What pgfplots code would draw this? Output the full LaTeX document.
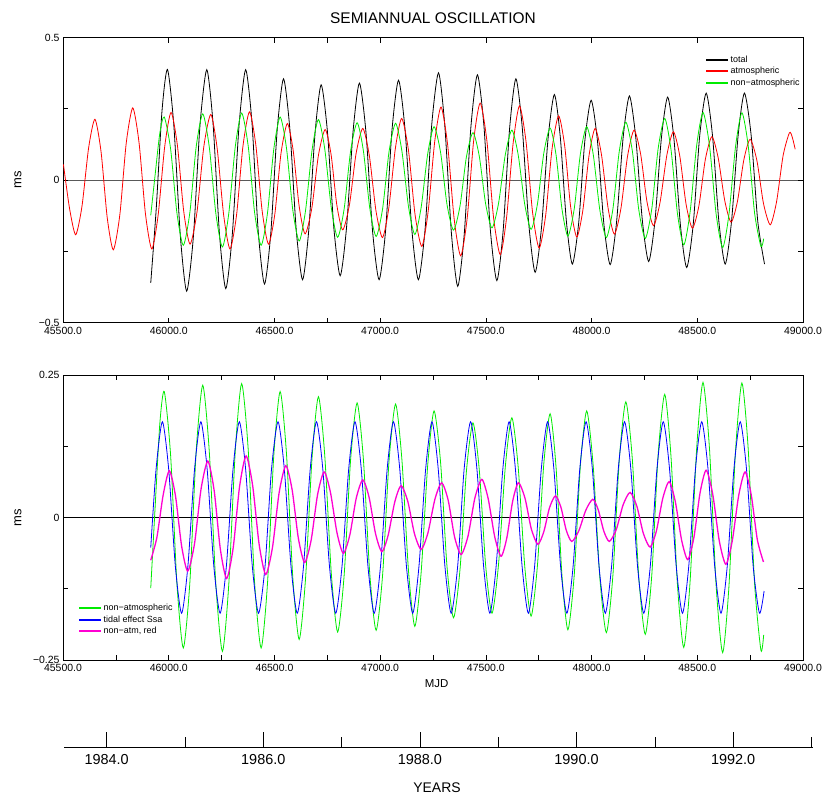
\documentclass[border=0pt]{standalone}
\usepackage{pgfplots}
\pgfplotsset{compat=1.18}
\usepackage{fontspec}
\setmainfont{Liberation Sans}
\definecolor{cgreen}{RGB}{0,235,0}
\definecolor{cred}{RGB}{255,0,0}
\definecolor{cblue}{RGB}{0,0,255}
\definecolor{cmag}{RGB}{255,0,210}
\pgfplotsset{
  panel/.style={
    scale only axis, width=740bp, height=285bp,
    xmin=45500, xmax=49000,
    scaled x ticks=false, scaled y ticks=false,
    xtick={45500,46000,46500,47000,47500,48000,48500,49000},
    xticklabels={45500.0,46000.0,46500.0,47000.0,47500.0,48000.0,48500.0,49000.0},
    tick align=inside, tick pos=both,
    major tick length=5bp, minor tick length=5bp,
    every tick/.style={black, line width=0.6bp},
    axis line style={black, line width=0.8bp},
    ticklabel style={font=\fontsize{10.5}{12}\selectfont},
    xticklabel style={yshift=-1bp},
    every axis y label/.style={at={(rel axis cs:-0.0608,0.5)}, anchor=center, rotate=90, font=\fontsize{13}{15}\selectfont},
    ylabel=ms,
    legend cell align=left,
    legend image code/.code={\draw[line width=2bp,#1] (0bp,0bp) -- (22bp,0bp);},
    every axis plot/.append style={line width=0.8bp, smooth, tension=0.42},
  }
}
\begin{document}
\begin{tikzpicture}
\useasboundingbox (0bp,0bp) rectangle (823bp,-798bp);
% ---------------- top panel ----------------
\begin{axis}[panel,
  at={(63bp,-37.5bp)}, anchor=north west,
  minor xtick={46750},
  ymin=-0.5, ymax=0.5,
  ytick={-0.5,-0.25,0,0.25,0.5},
  yticklabels={−0.5,,0,,0.5},
  title={SEMIANNUAL OSCILLATION},
  every axis title shift=0pt,
  title style={at={(rel axis cs:0.5,1.0664)}, anchor=center, font=\fontsize{15.5}{18}\selectfont},
  legend style={draw=none, fill=none, inner sep=0pt, outer sep=0pt,
    at={(rel axis cs:0.8676,0.942)}, anchor=north west,
    font=\fontsize{9}{10}\selectfont, row sep=0pt,
    nodes={inner sep=1.6bp, text height=6.5bp, text depth=1.8bp},
    /tikz/every even column/.append style={column sep=5bp}},
]
\addplot[black, forget plot] coordinates {(45500,0) (49000,0)};
\addplot[black] coordinates {
(45915,-0.361)(45941,-0.100)(45968,0.240)(45994,0.388)(46024,0.194)(46055,-0.196)(46085,-0.390)(46117,-0.196)(46148,0.193)(46180,0.387)(46210,0.195)(46240,-0.189)(46270,-0.381)(46301,-0.189)(46333,0.195)(46364,0.387)(46394,0.199)(46423,-0.177)(46453,-0.365)(46483,-0.185)(46513,0.175)(46543,0.355)(46573,0.178)(46603,-0.174)(46633,-0.350)(46662,-0.179)(46692,0.163)(46721,0.334)(46751,0.167)(46781,-0.168)(46811,-0.336)(46841,-0.167)(46872,0.171)(46902,0.340)(46933,0.167)(46964,-0.178)(46995,-0.350)(47026,-0.175)(47056,0.175)(47087,0.350)(47118,0.175)(47150,-0.175)(47181,-0.350)(47213,-0.169)(47244,0.194)(47276,0.376)(47306,0.189)(47337,-0.186)(47367,-0.373)(47398,-0.188)(47429,0.184)(47460,0.369)(47491,0.189)(47521,-0.173)(47552,-0.353)(47582,-0.176)(47612,0.178)(47642,0.355)(47672,0.185)(47703,-0.154)(47733,-0.324)(47763,-0.168)(47794,0.144)(47824,0.300)(47852,0.151)(47881,-0.146)(47909,-0.295)(47939,-0.151)(47968,0.136)(47998,0.280)(48028,0.136)(48058,-0.153)(48088,-0.297)(48118,-0.149)(48149,0.147)(48179,0.295)(48209,0.149)(48240,-0.141)(48270,-0.286)(48300,-0.142)(48330,0.146)(48360,0.291)(48390,0.141)(48420,-0.157)(48450,-0.307)(48481,-0.154)(48511,0.152)(48542,0.305)(48572,0.155)(48602,-0.145)(48632,-0.295)(48662,-0.145)(48693,0.155)(48723,0.305)(48755,0.155)(48786,-0.145)(48818,-0.295)
};
\addlegendentry{total}
\addplot[cred] coordinates {
(45502,0.055)(45531,-0.100)(45560,-0.192)(45590,-0.091)(45621,0.112)(45651,0.213)(45680,0.099)(45709,-0.131)(45738,-0.245)(45769,-0.121)(45799,0.129)(45830,0.253)(45860,0.129)(45890,-0.119)(45920,-0.242)(45950,-0.123)(45981,0.117)(46011,0.237)(46041,0.122)(46071,-0.110)(46101,-0.225)(46134,-0.111)(46166,0.117)(46199,0.230)(46229,0.112)(46260,-0.124)(46290,-0.242)(46321,-0.122)(46351,0.118)(46382,0.239)(46412,0.123)(46442,-0.109)(46472,-0.225)(46502,-0.119)(46531,0.093)(46561,0.198)(46589,0.102)(46617,-0.092)(46645,-0.189)(46677,-0.098)(46708,0.086)(46740,0.177)(46768,0.089)(46795,-0.087)(46823,-0.175)(46855,-0.086)(46886,0.092)(46918,0.181)(46949,0.085)(46980,-0.107)(47011,-0.202)(47041,-0.098)(47072,0.111)(47102,0.216)(47134,0.104)(47165,-0.121)(47197,-0.233)(47227,-0.111)(47258,0.134)(47288,0.256)(47319,0.125)(47350,-0.136)(47381,-0.266)(47412,-0.132)(47442,0.136)(47473,0.270)(47505,0.137)(47536,-0.129)(47568,-0.262)(47598,-0.132)(47629,0.129)(47659,0.260)(47690,0.135)(47721,-0.114)(47752,-0.239)(47783,-0.123)(47813,0.109)(47844,0.225)(47873,0.119)(47901,-0.094)(47930,-0.200)(47959,-0.105)(47988,0.086)(48017,0.181)(48047,0.088)(48078,-0.098)(48108,-0.190)(48139,-0.099)(48170,0.083)(48201,0.175)(48232,0.091)(48262,-0.076)(48293,-0.160)(48324,-0.078)(48356,0.087)(48387,0.169)(48417,0.085)(48447,-0.085)(48477,-0.169)(48508,-0.089)(48538,0.072)(48569,0.152)(48599,0.077)(48630,-0.073)(48660,-0.148)(48690,-0.075)(48720,0.070)(48750,0.143)(48782,0.068)(48813,-0.082)(48845,-0.157)(48875,-0.076)(48906,0.086)(48936,0.166)(48950,0.148)(48963,0.108)
};
\addlegendentry{atmospheric}
\addplot[cgreen] coordinates {
(45915,-0.124)(45936,0.020)(45958,0.165)(45979,0.221)(46009,0.109)(46039,-0.117)(46069,-0.229)(46100,-0.114)(46130,0.117)(46161,0.232)(46192,0.115)(46223,-0.118)(46254,-0.235)(46284,-0.118)(46315,0.118)(46345,0.235)(46376,0.119)(46406,-0.113)(46437,-0.229)(46467,-0.117)(46497,0.109)(46527,0.221)(46557,0.112)(46587,-0.106)(46617,-0.214)(46647,-0.108)(46678,0.105)(46708,0.212)(46738,0.109)(46769,-0.098)(46799,-0.201)(46830,-0.100)(46860,0.100)(46891,0.201)(46921,0.101)(46951,-0.099)(46981,-0.198)(47012,-0.099)(47042,0.099)(47073,0.199)(47103,0.101)(47134,-0.093)(47164,-0.191)(47194,-0.096)(47225,0.092)(47255,0.187)(47286,0.096)(47316,-0.085)(47347,-0.176)(47378,-0.090)(47408,0.081)(47439,0.166)(47469,0.083)(47499,-0.084)(47529,-0.168)(47560,-0.082)(47592,0.089)(47623,0.175)(47653,0.088)(47684,-0.086)(47714,-0.173)(47744,-0.084)(47774,0.094)(47804,0.182)(47832,0.088)(47860,-0.102)(47888,-0.197)(47918,-0.101)(47947,0.091)(47977,0.187)(48008,0.089)(48039,-0.105)(48070,-0.202)(48101,-0.101)(48131,0.101)(48162,0.203)(48193,0.101)(48223,-0.103)(48254,-0.205)(48285,-0.100)(48315,0.111)(48346,0.216)(48376,0.105)(48406,-0.117)(48436,-0.228)(48466,-0.112)(48497,0.121)(48527,0.237)(48558,0.119)(48589,-0.119)(48620,-0.237)(48650,-0.119)(48681,0.118)(48711,0.236)(48741,0.119)(48771,-0.116)(48801,-0.233)(48814,-0.206)
};
\addlegendentry{non−atmospheric}
\end{axis}
% ---------------- bottom panel ----------------
\begin{axis}[panel,
  at={(63bp,-375bp)}, anchor=north west,
  minor xtick={45750,46250,46750,47250,47750,48250,48750},
  ymin=-0.25, ymax=0.25,
  ytick={-0.25,-0.125,0,0.125,0.25},
  yticklabels={−0.25,,0,,0.25},
  xlabel=MJD,
  every axis x label/.style={at={(rel axis cs:0.505,-0.082)}, anchor=center, font=\fontsize{11.5}{13}\selectfont},
  legend style={draw=none, fill=none, inner sep=0pt, outer sep=0pt,
    at={(rel axis cs:0.0203,0.201)}, anchor=north west,
    font=\fontsize{9}{10}\selectfont, row sep=0pt,
    nodes={inner sep=1.6bp, text height=6.5bp, text depth=1.8bp},
    /tikz/every even column/.append style={column sep=2bp}},
]
\addplot[black, forget plot] coordinates {(45500,0) (49000,0)};
\addplot[cgreen] coordinates {
(45915,-0.124)(45936,0.020)(45958,0.165)(45979,0.221)(46009,0.109)(46039,-0.117)(46069,-0.229)(46100,-0.114)(46130,0.117)(46161,0.232)(46192,0.115)(46223,-0.118)(46254,-0.235)(46284,-0.118)(46315,0.118)(46345,0.235)(46376,0.119)(46406,-0.113)(46437,-0.229)(46467,-0.117)(46497,0.109)(46527,0.221)(46557,0.112)(46587,-0.106)(46617,-0.214)(46647,-0.108)(46678,0.105)(46708,0.212)(46738,0.109)(46769,-0.098)(46799,-0.201)(46830,-0.100)(46860,0.100)(46891,0.201)(46921,0.101)(46951,-0.099)(46981,-0.198)(47012,-0.099)(47042,0.099)(47073,0.199)(47103,0.101)(47134,-0.093)(47164,-0.191)(47194,-0.096)(47225,0.092)(47255,0.187)(47286,0.096)(47316,-0.085)(47347,-0.176)(47378,-0.090)(47408,0.081)(47439,0.166)(47469,0.083)(47499,-0.084)(47529,-0.168)(47560,-0.082)(47592,0.089)(47623,0.175)(47653,0.088)(47684,-0.086)(47714,-0.173)(47744,-0.084)(47774,0.094)(47804,0.182)(47832,0.088)(47860,-0.102)(47888,-0.197)(47918,-0.101)(47947,0.091)(47977,0.187)(48008,0.089)(48039,-0.105)(48070,-0.202)(48101,-0.101)(48131,0.101)(48162,0.203)(48193,0.101)(48223,-0.103)(48254,-0.205)(48285,-0.100)(48315,0.111)(48346,0.216)(48376,0.105)(48406,-0.117)(48436,-0.228)(48466,-0.112)(48497,0.121)(48527,0.237)(48558,0.119)(48589,-0.119)(48620,-0.237)(48650,-0.119)(48681,0.118)(48711,0.236)(48741,0.119)(48771,-0.116)(48801,-0.233)(48814,-0.206)
};
\addlegendentry{non−atmospheric}
\addplot[cblue] coordinates {
(45915,-0.053)(45940,0.084)(45970,0.168)(46000,0.084)(46031,-0.084)(46061,-0.168)(46091,-0.084)(46122,0.084)(46152,0.168)(46182,0.084)(46213,-0.084)(46243,-0.168)(46273,-0.084)(46304,0.084)(46334,0.168)(46364,0.084)(46395,-0.084)(46425,-0.168)(46456,-0.084)(46486,0.084)(46517,0.168)(46547,0.084)(46578,-0.084)(46608,-0.168)(46638,-0.084)(46669,0.084)(46699,0.168)(46729,0.084)(46760,-0.084)(46790,-0.168)(46820,-0.084)(46851,0.084)(46881,0.168)(46911,0.084)(46942,-0.084)(46972,-0.168)(47002,-0.084)(47033,0.084)(47063,0.168)(47093,0.084)(47124,-0.084)(47154,-0.168)(47184,-0.084)(47215,0.084)(47245,0.168)(47275,0.084)(47306,-0.084)(47336,-0.168)(47367,-0.084)(47397,0.084)(47428,0.168)(47458,0.084)(47489,-0.084)(47519,-0.168)(47549,-0.084)(47580,0.084)(47610,0.168)(47640,0.084)(47671,-0.084)(47701,-0.168)(47731,-0.084)(47762,0.084)(47792,0.168)(47822,0.084)(47853,-0.084)(47883,-0.168)(47913,-0.084)(47944,0.084)(47974,0.168)(48004,0.084)(48035,-0.084)(48065,-0.168)(48095,-0.084)(48126,0.084)(48156,0.168)(48186,0.084)(48217,-0.084)(48247,-0.168)(48278,-0.084)(48309,0.084)(48339,0.168)(48369,0.084)(48400,-0.084)(48430,-0.168)(48460,-0.084)(48491,0.084)(48521,0.168)(48551,0.084)(48582,-0.084)(48612,-0.168)(48642,-0.084)(48673,0.084)(48703,0.168)(48733,0.084)(48764,-0.084)(48794,-0.168)(48816,-0.129)
};
\addlegendentry{tidal effect Ssa}
\addplot[cmag, line width=1.3bp] coordinates {
(45915,-0.075)(45944,-0.035)(45974,0.040)(46003,0.082)(46032,0.038)(46061,-0.050)(46090,-0.094)(46122,-0.046)(46153,0.050)(46185,0.099)(46215,0.047)(46244,-0.055)(46274,-0.107)(46305,-0.053)(46335,0.054)(46366,0.108)(46397,0.056)(46428,-0.048)(46459,-0.100)(46491,-0.052)(46522,0.043)(46554,0.091)(46584,0.048)(46613,-0.036)(46643,-0.079)(46674,-0.039)(46704,0.040)(46735,0.080)(46765,0.044)(46796,-0.027)(46826,-0.063)(46857,-0.030)(46887,0.034)(46918,0.066)(46948,0.035)(46978,-0.028)(47008,-0.060)(47038,-0.031)(47069,0.027)(47099,0.056)(47131,0.028)(47162,-0.028)(47194,-0.056)(47226,-0.027)(47259,0.032)(47291,0.061)(47322,0.030)(47352,-0.034)(47383,-0.065)(47416,-0.032)(47448,0.034)(47481,0.067)(47511,0.033)(47542,-0.034)(47572,-0.068)(47599,-0.036)(47627,0.029)(47654,0.061)(47685,0.034)(47715,-0.020)(47746,-0.047)(47774,-0.025)(47801,0.017)(47829,0.038)(47855,0.018)(47880,-0.022)(47906,-0.042)(47939,-0.024)(47973,0.013)(48006,0.032)(48032,0.013)(48058,-0.024)(48084,-0.042)(48117,-0.021)(48149,0.022)(48182,0.044)(48214,0.020)(48245,-0.028)(48277,-0.052)(48307,-0.023)(48337,0.034)(48367,0.063)(48396,0.028)(48426,-0.040)(48455,-0.074)(48484,-0.035)(48513,0.043)(48542,0.083)(48573,0.041)(48604,-0.041)(48635,-0.082)(48665,-0.042)(48696,0.039)(48726,0.080)(48755,0.040)(48784,-0.039)(48813,-0.078)
};
\addlegendentry{non−atm, red}
\end{axis}
% ---------------- years axis ----------------
\begin{axis}[
  at={(64bp,-747bp)}, anchor=south west,
  scale only axis, width=749bp, height=20bp,
  xmin=1983.455, xmax=1993.02, ymin=0, ymax=1,
  axis x line*=bottom, hide y axis,
  axis line style={black, line width=0.8bp},
  xtick={1984,1986,1988,1990,1992},
  xticklabels={1984.0,1986.0,1988.0,1990.0,1992.0},
  minor xtick={1985,1987,1989,1991,1993},
  tick align=inside,
  major tick length=15bp, minor tick length=10bp,
  every tick/.style={black, line width=0.6bp},
  xticklabel style={font=\fontsize{14.5}{16}\selectfont, yshift=-4bp},
  xlabel=YEARS,
  every axis x label/.style={at={(rel axis cs:0.498,-2.05)}, anchor=center, font=\fontsize{14}{16}\selectfont},
]
\end{axis}
\end{tikzpicture}
\end{document}
